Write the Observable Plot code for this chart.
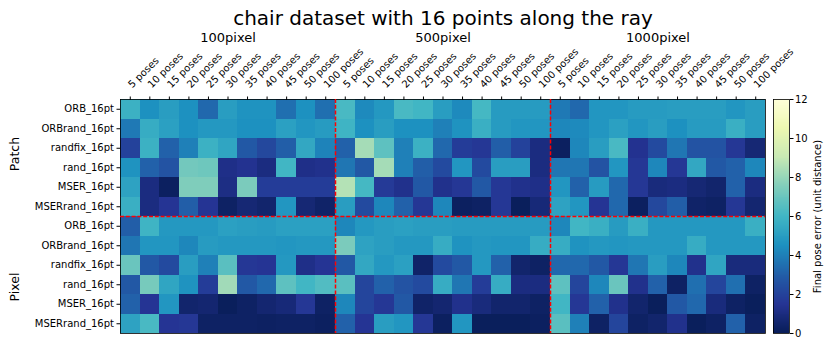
<!DOCTYPE html>
<html><head><meta charset="utf-8">
<script src="https://cdn.jsdelivr.net/npm/d3@7"></script>
<script src="https://cdn.jsdelivr.net/npm/@observablehq/plot@0.6"></script>
<style>
html,body{margin:0;padding:0;background:#fff;}
#wrap{position:relative;width:830px;height:348px;font-family:"DejaVu Sans",sans-serif;}
#wrap svg{position:absolute;top:0;display:block;overflow:visible;}
</style></head><body><div id="wrap"></div>
<script>
const title = "chair dataset with 16 points along the ray";
const colorLabel = "Final pose error (unit distance)";
const resolutions = ["100pixel", "500pixel", "1000pixel"];
const poses = ["5 poses","10 poses","15 poses","20 poses","25 poses","30 poses","35 poses","40 poses","45 poses","50 poses","100 poses"];
const groups = ["Patch", "Pixel"];
const methods = ["ORB_16pt","ORBrand_16pt","randfix_16pt","rand_16pt","MSER_16pt","MSERrand_16pt"];
const colorTicks = [0, 2, 4, 6, 8, 10, 12];

// values: 100pixel (11) | 500pixel (11) | 1000pixel (11)
const patch_ORB       = [5.8,4.5,5.0,4.5,3.3,5.0,4.6,4.6,3.5,4.5,3.5, 6.2,4.3,4.8,6.2,6.0,5.0,4.3,6.1,4.9,4.9,4.9, 3.8,3.3,4.7,4.7,4.9,4.9,5.0,5.0,5.0,4.7,5.0];
const patch_ORBrand   = [3.8,5.6,5.1,4.5,4.8,4.8,4.5,4.5,5.1,4.7,4.9, 5.9,4.5,5.0,4.5,4.5,4.0,4.6,5.7,4.9,4.7,4.7, 4.2,4.3,4.7,5.1,4.7,5.0,4.5,4.9,4.9,5.7,5.0];
const patch_randfix   = [2.0,5.8,3.1,4.0,5.8,5.3,2.8,2.2,3.0,5.4,4.1, 3.1,8.3,6.7,4.0,5.8,3.3,1.8,1.6,3.0,2.0,1.0, 0.2,4.2,5.0,6.2,1.4,2.3,3.7,2.6,2.6,1.6,0.7];
const patch_rand      = [4.6,3.1,2.6,7.2,7.1,1.2,1.4,1.0,6.0,1.2,1.3, 3.7,2.8,8.3,4.0,3.0,2.3,4.7,2.3,5.0,5.0,1.0, 3.7,3.7,2.6,4.7,1.6,4.2,1.6,5.4,2.8,3.1,4.2];
const patch_MSER      = [5.2,1.0,0.2,7.5,7.5,1.1,7.4,1.8,1.8,1.8,1.8, 8.6,6.1,1.7,1.3,2.8,1.3,1.6,2.8,1.6,1.3,1.2, 4.7,3.1,4.9,3.3,1.6,0.9,1.0,0.7,0.5,3.1,1.0];
const patch_MSERrand  = [5.7,1.0,1.5,3.0,1.5,0.3,0.7,0.5,4.7,0.7,0.4, 5.0,2.3,4.2,3.1,1.6,4.2,0.2,0.3,1.6,0.1,0.8, 5.2,4.7,1.5,3.3,0.2,2.2,3.0,0.4,0.3,1.6,0.6];
const pixel_ORB       = [3.0,5.9,4.8,4.8,4.8,5.1,5.0,4.9,5.1,5.1,5.1, 4.2,4.8,5.0,5.1,5.0,5.0,4.9,4.9,4.9,4.9,4.9, 4.2,6.0,5.7,4.9,5.7,4.8,4.8,4.8,4.8,4.8,5.7];
const pixel_ORBrand   = [3.7,4.7,4.7,4.2,4.9,4.8,4.8,4.8,4.7,4.8,4.8, 7.4,5.2,5.0,4.8,4.8,5.6,4.6,4.8,4.7,4.7,5.6, 5.6,4.6,4.8,4.7,4.8,4.8,4.8,5.6,4.8,4.8,4.8];
const pixel_randfix   = [7.0,2.8,2.3,5.0,4.0,6.6,1.6,1.5,4.8,1.2,1.5, 2.8,5.4,4.8,5.1,0.4,2.3,2.8,4.8,3.1,0.5,0.3, 3.3,3.3,2.8,1.6,3.7,5.0,4.2,1.3,5.3,0.9,0.9];
const pixel_rand      = [2.8,7.3,5.3,4.6,1.8,8.2,2.8,3.3,6.7,6.0,6.4, 6.6,2.1,3.1,2.6,2.3,5.6,3.7,1.8,5.6,1.0,1.0, 6.7,2.1,4.2,7.0,1.3,3.1,0.3,3.5,2.1,3.5,0.3];
const pixel_MSER      = [3.1,1.5,4.7,0.5,0.6,0.1,0.3,0.6,0.8,1.6,0.3, 4.2,2.1,1.6,2.8,0.4,0.6,1.3,0.9,0.5,0.5,0.3, 6.0,1.6,3.1,1.3,0.5,0.1,2.8,3.3,0.9,0.3,0.1];
const pixel_MSERrand  = [5.2,6.2,1.5,1.6,0.3,0.3,0.3,0.25,0.3,0.3,0.2, 3.1,1.5,5.0,4.7,1.6,0.2,4.7,0.1,0.1,0.1,0.2, 6.6,4.0,0.3,2.1,0.3,0.5,1.3,0.1,0.3,3.1,0.3];

const rowValues = [patch_ORB, patch_ORBrand, patch_randfix, patch_rand, patch_MSER, patch_MSERrand,
                   pixel_ORB, pixel_ORBrand, pixel_randfix, pixel_rand, pixel_MSER, pixel_MSERrand];

// ---- derived tables ----
const nP = poses.length, nM = methods.length;
const columns = resolutions.flatMap((r, g) => poses.map((p, k) => ({res: r, pose: p, i: g * nP + k})));
const rows = groups.flatMap((g, gi) => methods.map((m, k) => ({group: g, method: m, j: gi * nM + k})));
const cells = rows.flatMap(r => rowValues[r.j].map((v, i) => ({i, j: r.j, value: v})));
const nCols = columns.length, nRows = rows.length;
const cmax = colorTicks[colorTicks.length - 1];

// matplotlib YlGnBu_r stops
const ylgnbu = ["#081d58","#253494","#225ea8","#1d91c0","#41b6c4","#7fcdbb","#c7e9b4","#edf8b1","#ffffd9"];
const colorScale = {type: "linear", domain: ylgnbu.map((_, k) => k * cmax / (ylgnbu.length - 1)), range: ylgnbu, interpolate: "rgb", clamp: true};

const H = 348, MT = 99, MB = 15;
const font = {fontFamily: "DejaVu Sans", fontSize: "10px", color: "#000", background: "none", overflow: "visible"};
const dash = {stroke: "#ff0000", strokeWidth: 1.5, strokeDasharray: "4,1.8"};

const main = Plot.plot({
  width: 770, height: H, marginLeft: 120, marginRight: 5, marginTop: MT, marginBottom: MB,
  style: font,
  x: {domain: [0, nCols], axis: null},
  y: {domain: [0, nRows], reverse: true, axis: null},
  color: colorScale,
  marks: [
    Plot.rect(cells, {x1: "i", x2: d => d.i + 1, y1: "j", y2: d => d.j + 1, fill: "value", inset: 0, shapeRendering: "crispEdges"}),
    Plot.frame({stroke: "black", strokeWidth: 0.8}),
    Plot.ruleX(d3.range(1, resolutions.length).map(g => g * nP), dash),
    Plot.ruleY(d3.range(1, groups.length).map(g => g * nM), dash),
    Plot.axisX({anchor: "top", ticks: columns.map(c => c.i + 0.5), tickFormat: () => "", tickSize: 3.5, label: null}),
    Plot.text(columns, {x: d => d.i + 0.5, text: "pose", frameAnchor: "top", rotate: -45, textAnchor: "start", lineAnchor: "bottom", dx: 2, dy: -11, fontSize: 10, fill: "black"}),
    Plot.axisY({anchor: "left", ticks: rows.map(r => r.j + 0.5), tickFormat: v => rows[Math.floor(v)].method, tickSize: 3.5, tickPadding: 3, fontSize: 10, label: null}),
    Plot.text(resolutions, {x: (d, g) => g * nP + nP / 2, text: d => d, frameAnchor: "top", lineAnchor: "bottom", dy: -58, fontSize: 13, fill: "black"}),
    Plot.text([title], {x: nCols / 2, text: d => d, frameAnchor: "top", lineAnchor: "bottom", dy: -75, fontSize: 20, fill: "black"}),
    Plot.text([groups[0]], {y: nM / 2, text: d => d, frameAnchor: "left", textAnchor: "middle", rotate: -90, dx: -106, dy: -4, fontSize: 12.5, fill: "black"}),
    Plot.text([groups[1]], {y: nM + nM / 2, text: d => d, frameAnchor: "left", textAnchor: "middle", rotate: -90, dx: -106, dy: 12, fontSize: 12.5, fill: "black"})
  ]
});

const barSteps = d3.range(0, cmax, cmax / 240);
const cbar = Plot.plot({
  width: 60, height: H, marginLeft: 3, marginRight: 41, marginTop: MT, marginBottom: MB,
  style: font,
  x: {domain: [0, 1], axis: null},
  y: {domain: [0, cmax], axis: null},
  color: colorScale,
  marks: [
    Plot.rect(barSteps, {x1: 0, x2: 1, y1: d => d, y2: d => d + cmax / 240, fill: d => d + cmax / 480, shapeRendering: "crispEdges"}),
    Plot.frame({stroke: "black", strokeWidth: 0.8}),
    Plot.axisY({anchor: "right", ticks: colorTicks, tickSize: 3.5, tickPadding: 2, fontSize: 10, label: null}),
    Plot.text([colorLabel], {y: cmax / 2, text: d => d, frameAnchor: "right", textAnchor: "middle", rotate: -90, dx: 28, fontSize: 10, fill: "black"})
  ]
});

main.style.left = "0px";
cbar.style.left = "770px";
document.getElementById("wrap").append(cbar, main);
</script></body></html>
